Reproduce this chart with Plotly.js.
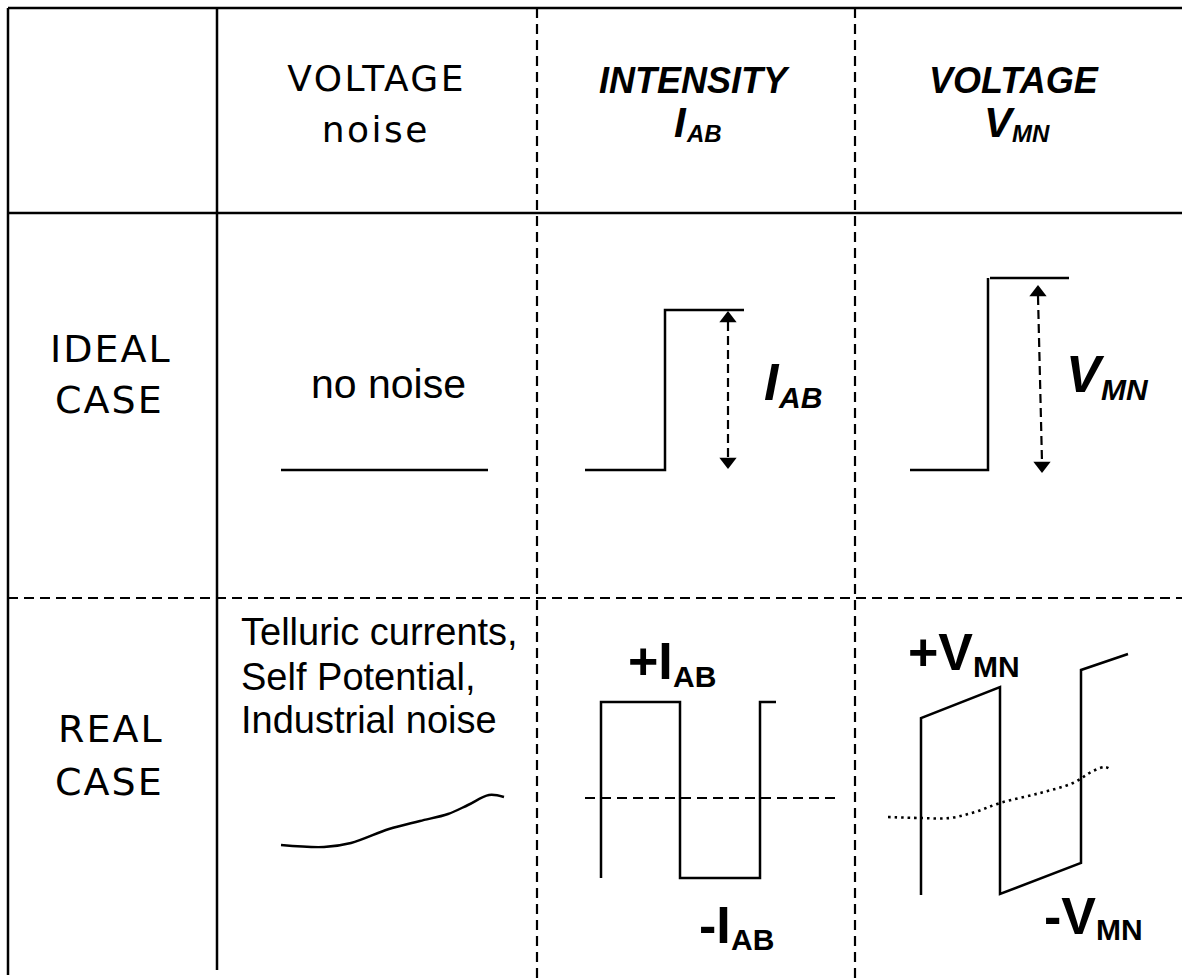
<!DOCTYPE html>
<html>
<head>
<meta charset="utf-8">
<script src="https://cdn.plot.ly/plotly-3.0.1.min.js"></script>
<style>
html,body{margin:0;padding:0;background:#fff;}
#chart{width:1182px;height:978px;}
</style>
</head>
<body>
<div id="chart"></div>
<script>
// ---------- table grid (diagram units = pixels of the 1182x978 sheet) ----------
const gridSolidRows = [8, 213];          // solid horizontal rules
const gridDashedRows = [598];            // dashed horizontal rule
const gridSolidCols = [8, 217];          // solid vertical rules
const gridSolidColEnds = [975, 970];
const gridDashedCols = [537, 855];       // dashed vertical rules
const gridLeft = 8, gridRight = 1182, gridTop = 8, gridBottom = 978;

// ---------- waveforms ----------
const idealNoiseT = [281, 488];
const idealNoiseV = [470, 470];
const idealIT = [585, 665, 665, 744];
const idealIV = [470, 470, 310, 310];
const idealIArrowT = [728, 728];
const idealIArrowV = [322, 458];
const idealVT = [910, 988, 988, null, 990, 1069];
const idealVV = [470, 470, 278, null, 278, 278];
const idealVArrowT = [1038, 1042];
const idealVArrowV = [296, 462];
const realNoiseT = [281, 324, 351, 389, 420, 448, 468, 489, 504];
const realNoiseV = [845, 847, 843, 829, 821, 814, 805, 795, 797];
const realIT = [601, 601, 680, 680, 760, 760, 776];
const realIV = [878, 702, 702, 878, 878, 702, 702];
const realIZeroT = [585, 838];
const realIZeroV = [798, 798];
const realVT = [921, 921, 1000, 1000, 1081, 1081, 1128];
const realVV = [895, 718, 687, 894, 863, 670, 654];
const realVNoiseT = [888, 920, 950, 975, 1000, 1040, 1073, 1093, 1105, 1110];
const realVNoiseV = [817, 818, 818, 812, 803, 793, 783, 771, 767, 769];

// ---------- texts ----------
const colHeaderNoise = ['VOLTAGE', 'noise'];
const colHeaderTitles = ['INTENSITY', 'VOLTAGE'];
const rowIdeal = ['IDEAL', 'CASE'];
const rowReal = ['REAL', 'CASE'];
const noiseIdealText = 'no noise';
const noiseRealText = ['Telluric currents,', 'Self Potential,', 'Industrial noise'];
// symbol labels: main part and subscript part
const symMain = ['I', 'V', 'I', 'V', '+I', '-I', '+V', '-V'];
const symSub  = ['AB', 'MN', 'AB', 'MN', 'AB', 'AB', 'MN', 'MN'];

const ARIAL = 'Liberation Sans';
const WIDE = 'DejaVu Sans';
const BLACK = '#000000';
const LW = 2.5;

function line(x, y, opts) {
  return Object.assign({
    type: 'scatter', mode: 'lines', x: x, y: y,
    line: {color: BLACK, width: LW},
    hoverinfo: 'skip', connectgaps: false
  }, opts || {});
}

const traces = [
  line(idealNoiseT, idealNoiseV),
  line(idealIT, idealIV),
  line(idealIArrowT, idealIArrowV, {line: {color: BLACK, width: 2.2, dash: '9px,5px'}}),
  {type: 'scatter', mode: 'markers', x: [idealIArrowT[0], idealIArrowT[1]], y: [idealIArrowV[0] - 3.5, idealIArrowV[1] + 3.5],
   marker: {symbol: ['triangle-up', 'triangle-down'], size: 15, color: BLACK}, hoverinfo: 'skip'},
  line(idealVT, idealVV),
  line(idealVArrowT, idealVArrowV, {line: {color: BLACK, width: 2.2, dash: '9px,5px'}}),
  {type: 'scatter', mode: 'markers', x: [idealVArrowT[0], idealVArrowT[1]], y: [idealVArrowV[0] - 3.5, idealVArrowV[1] + 3.5],
   marker: {symbol: ['triangle-up', 'triangle-down'], size: 15, color: BLACK}, hoverinfo: 'skip'},
  line(realNoiseT, realNoiseV, {line: {color: BLACK, width: LW, shape: 'spline', smoothing: 1}}),
  line(realIT, realIV),
  line(realIZeroT, realIZeroV, {line: {color: BLACK, width: 2.2, dash: '10px,6px'}}),
  line(realVT, realVV),
  line(realVNoiseT, realVNoiseV, {line: {color: BLACK, width: 2.6, dash: '2.5px,4px', shape: 'spline', smoothing: 1}})
];

// grid shapes
const shapes = [];
gridSolidRows.forEach(function (y) {
  shapes.push({type: 'line', xref: 'x', yref: 'y', x0: gridLeft, x1: gridRight, y0: y, y1: y, line: {color: BLACK, width: LW}});
});
gridDashedRows.forEach(function (y) {
  shapes.push({type: 'line', xref: 'x', yref: 'y', x0: gridLeft, x1: gridRight, y0: y, y1: y, line: {color: BLACK, width: 2.2, dash: '10px,6px'}});
});
gridSolidCols.forEach(function (x, i) {
  shapes.push({type: 'line', xref: 'x', yref: 'y', x0: x, x1: x, y0: gridTop, y1: gridSolidColEnds[i], line: {color: BLACK, width: LW}});
});
gridDashedCols.forEach(function (x) {
  shapes.push({type: 'line', xref: 'x', yref: 'y', x0: x, x1: x, y0: gridTop, y1: gridBottom, line: {color: BLACK, width: 2.2, dash: '10px,6px'}});
});

// y given as text baseline; converted to box middle (ascent .905 / descent .212 em)
function txt(text, x, baseline, font, anchor, spacing) {
  return {
    text: text, x: x, y: baseline - 0.3465 * font.size, xref: 'x', yref: 'y', showarrow: false,
    xanchor: anchor || 'center', yanchor: 'middle', borderpad: 0,
    font: Object.assign({color: BLACK}, font), _ls: spacing || 0
  };
}
const fWideHead = {family: WIDE, size: 36};
const fWideRow = {family: WIDE, size: 38};
const fBI = {family: ARIAL, size: 36, weight: 'bold', style: 'italic'};
const fReg = {family: ARIAL, size: 41};
const fRegS = {family: ARIAL, size: 38};

// symbol label styles: [main font, sub font, left x, baseline, sub drop]
const symFonts = [
  [{family: ARIAL, size: 42, weight: 'bold', style: 'italic'}, {family: ARIAL, size: 24, weight: 'bold', style: 'italic'}, 673, 137, 5],
  [{family: ARIAL, size: 42, weight: 'bold', style: 'italic'}, {family: ARIAL, size: 24, weight: 'bold', style: 'italic'}, 983, 137, 5],
  [{family: ARIAL, size: 52, weight: 'bold', style: 'italic'}, {family: ARIAL, size: 30, weight: 'bold', style: 'italic'}, 763, 400, 8],
  [{family: ARIAL, size: 52, weight: 'bold', style: 'italic'}, {family: ARIAL, size: 30, weight: 'bold', style: 'italic'}, 1065, 392, 8],
  [{family: ARIAL, size: 52, weight: 'bold'}, {family: ARIAL, size: 30, weight: 'bold'}, 627, 679, 8],
  [{family: ARIAL, size: 52, weight: 'bold'}, {family: ARIAL, size: 30, weight: 'bold'}, 698, 943, 7],
  [{family: ARIAL, size: 52, weight: 'bold'}, {family: ARIAL, size: 30, weight: 'bold'}, 907, 670, 7],
  [{family: ARIAL, size: 52, weight: 'bold'}, {family: ARIAL, size: 30, weight: 'bold'}, 1043, 934, 6]
];

const ctx = document.createElement('canvas').getContext('2d');
function advance(text, f) {
  ctx.font = (f.style === 'italic' ? 'italic ' : '') + (f.weight === 'bold' ? 'bold ' : '') + f.size + 'px "' + f.family + '"';
  return ctx.measureText(text).width;
}

const annotations = [
  txt(colHeaderNoise[0], 376, 91, fWideHead, 'center', 2.5),
  txt(colHeaderNoise[1], 376, 142, fWideHead, 'center', 2.5),
  txt(colHeaderTitles[0], 694, 93, fBI),
  txt(colHeaderTitles[1], 1014, 93, fBI),
  txt(rowIdeal[0], 111, 362, fWideRow, 'center', 2),
  txt(rowIdeal[1], 109, 413, fWideRow, 'center', 2),
  txt(rowReal[0], 111, 742, fWideRow, 'center', 2),
  txt(rowReal[1], 109, 795, fWideRow, 'center', 2),
  txt(noiseIdealText, 388.5, 398, fReg),
  txt(noiseRealText[0], 240, 645, fRegS, 'left'),
  txt(noiseRealText[1], 240, 690, fRegS, 'left'),
  txt(noiseRealText[2], 240, 733, fRegS, 'left')
];
symMain.forEach(function (m, i) {
  const s = symFonts[i];
  annotations.push(txt(m, s[2], s[3], s[0], 'left'));
  annotations.push(txt(symSub[i], s[2] + advance(m, s[0]), s[3] + s[4], s[1], 'left'));
});
const spacings = annotations.map(function (a) { const s = a._ls; delete a._ls; return s; });

const layout = {
  width: 1182, height: 978,
  margin: {l: 0, r: 0, t: 0, b: 0, pad: 0},
  paper_bgcolor: '#ffffff', plot_bgcolor: '#ffffff',
  showlegend: false,
  xaxis: {range: [0, 1182], visible: false, fixedrange: true},
  yaxis: {range: [978, 0], visible: false, fixedrange: true},
  shapes: shapes,
  annotations: annotations
};

Plotly.newPlot('chart', traces, layout, {displayModeBar: false, staticPlot: true}).then(function (gd) {
  gd.querySelectorAll('.annotation').forEach(function (g) {
    const i = +g.getAttribute('data-index');
    if (spacings[i]) {
      const t = g.querySelector('.annotation-text');
      if (t) t.style.letterSpacing = spacings[i] + 'px';
    }
  });
});
</script>
</body>
</html>
